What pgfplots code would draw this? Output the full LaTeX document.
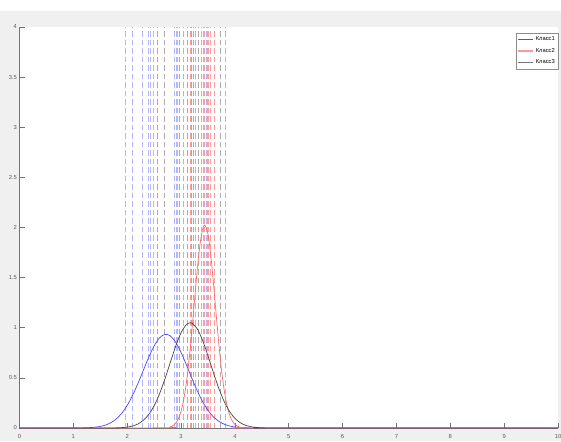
\documentclass[border=0pt]{standalone}
\usepackage{fontspec}
\setmainfont{Liberation Sans}
\usepackage{pgfplots}
\pgfplotsset{compat=1.18}

\definecolor{figbg}{HTML}{F0F0F0}
\definecolor{curveA}{HTML}{4A4AFF}
\definecolor{curveB}{HTML}{FF6A6A}
\definecolor{curveC}{HTML}{474747}
\definecolor{dashA}{HTML}{B4B4FF}
\definecolor{dashB}{HTML}{FF9C9C}
\definecolor{dashC}{HTML}{ABABAB}

\begin{document}
\begin{tikzpicture}
% figure background (white strip at the very top)
\fill[figbg] (-19.5pt,-13pt) rectangle (541.5pt,417pt);
\begin{axis}[
    scale only axis,
    width=538.5pt, height=401pt,
    xmin=0, xmax=10, ymin=0, ymax=4,
    xtick={0,1,...,10},
    ytick={0,0.5,...,4},
    axis x line=bottom, axis y line=left,
    axis line style={-, black!55},
    axis background/.style={fill=white},
    tick align=inside,
    major tick length=5pt,
    tick style={black!55, line width=0.6pt},
    ticklabel style={font=\fontsize{5.8}{6}\selectfont, text=black!65},
    /pgf/number format/assume math mode=true,
    xticklabel style={yshift=-2.5pt},
    yticklabel style={xshift=1pt},
    legend style={at={(1,1)}, anchor=north east, yshift=-6pt,
        draw=black!45, fill=white, font=\fontsize{5.8}{6}\selectfont,
        inner xsep=1pt, inner ysep=1.5pt, row sep=2pt,
        cells={anchor=west}},
    legend image code/.code={\draw[#1] (0pt,0pt) -- (15pt,0pt);},
    clip=true,
]
% legend entries
\addlegendimage{draw=curveA, line width=1.3pt}
\addlegendentry{Класс1}
\addlegendimage{draw=curveB!70, line width=1.3pt}
\addlegendentry{Класс2}
\addlegendimage{draw=curveC!75, line width=1.3pt}
\addlegendentry{Класс3}
% vertical dashed markers for each class
\addplot[forget plot, ycomb, dashA, line width=1pt, dash pattern=on 5.5pt off 3pt]
    coordinates {(1.97,4)(2.09,4)(2.29,4)(2.39,4)(2.44,4)(2.49,4)(2.88,4)(2.91,4)(2.94,4)(3.47,4)};
\addplot[forget plot, ycomb, dashC, line width=1pt, dash pattern=on 5.5pt off 3pt]
    coordinates {(2.56,4)(2.69,4)(2.98,4)(3.04,4)(3.12,4)(3.19,4)(3.23,4)(3.33,4)(3.62,4)(3.74,4)};
\addplot[forget plot, ycomb, dashB, line width=1pt, dash pattern=on 5.5pt off 3pt]
    coordinates {(3.05,4)(3.17,4)(3.27,4)(3.38,4)(3.42,4)(3.44,4)(3.49,4)(3.51,4)(3.55,4)(3.63,4)(3.83,4)};
% class densities
\addplot[forget plot, curveA, line width=0.7pt, smooth] coordinates {
 (0,0)(1.0,0.0003)(1.1,0.0007)(1.2,0.0017)(1.3,0.0037)(1.4,0.0079)(1.5,0.0158)
 (1.6,0.0300)(1.7,0.0539)(1.8,0.0918)(1.9,0.148)(2.0,0.2256)(2.1,0.3259)
 (2.2,0.4454)(2.3,0.5764)(2.4,0.7061)(2.5,0.8188)(2.6,0.8988)(2.7,0.934)
 (2.8,0.9187)(2.9,0.8555)(3.0,0.7541)(3.1,0.6293)(3.2,0.4971)(3.3,0.3717)
 (3.4,0.2631)(3.5,0.1763)(3.6,0.1118)(3.7,0.0671)(3.8,0.0382)(3.9,0.0205)
 (4.0,0.0105)(4.1,0.0050)(4.2,0.0023)(4.3,0.0010)(4.4,0.0004)(4.5,0.0002)(10,0)};
\addplot[forget plot, curveB, line width=0.7pt, smooth] coordinates {
 (0,0)(2.7,0.002)(2.8,0.0103)(2.85,0.0228)(2.9,0.0473)(2.95,0.0919)(3.0,0.1672)
 (3.05,0.2853)(3.1,0.4567)(3.15,0.6853)(3.2,0.9641)(3.25,1.2719)(3.3,1.5731)
 (3.35,1.8244)(3.4,1.9837)(3.44,2.025)(3.5,1.9333)(3.55,1.7328)(3.6,1.4562)
 (3.65,1.1474)(3.7,0.8477)(3.75,0.5870)(3.8,0.3813)(3.85,0.2322)(3.9,0.1326)
 (3.95,0.0710)(4.0,0.0356)(4.05,0.0168)(4.1,0.0074)(4.15,0.0031)(4.2,0.0012)(4.3,0.0002)(10,0)};
\addplot[forget plot, curveC, line width=0.7pt, smooth] coordinates {
 (0,0)(1.7,0.0005)(1.8,0.0016)(1.9,0.0039)(2.0,0.0092)(2.1,0.0199)(2.2,0.0404)
 (2.3,0.0763)(2.4,0.1348)(2.5,0.2219)(2.6,0.3409)(2.7,0.4887)(2.8,0.6536)
 (2.9,0.8157)(3.0,0.950)(3.1,1.0323)(3.17,1.05)(3.2,1.0467)(3.3,0.9904)
 (3.4,0.8742)(3.5,0.7202)(3.6,0.5536)(3.7,0.3970)(3.8,0.2657)(3.9,0.1659)
 (4.0,0.0966)(4.1,0.0525)(4.2,0.0267)(4.3,0.0126)(4.4,0.0056)(4.5,0.0023)
 (4.6,0.0009)(4.7,0.0003)(10,0)};
\end{axis}
\pgfresetboundingbox
\useasboundingbox (-19.5pt,-13pt) rectangle (541.5pt,428pt);
\end{tikzpicture}
\end{document}
